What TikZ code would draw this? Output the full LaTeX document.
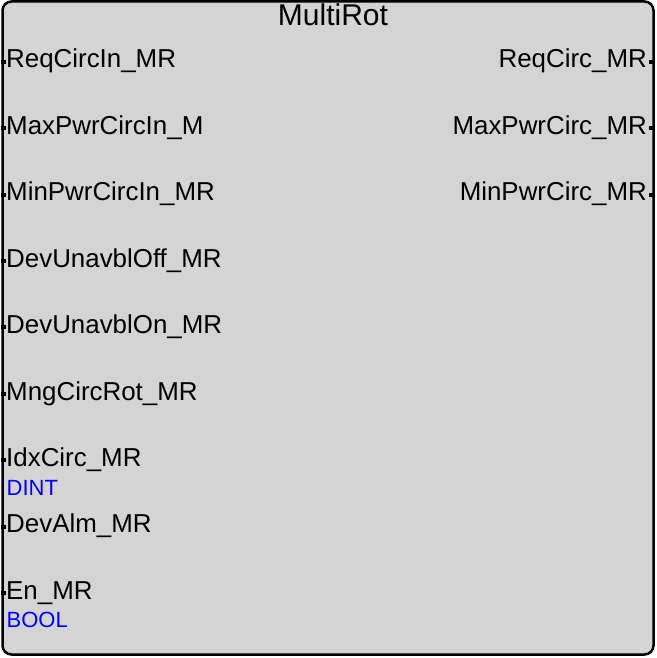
\documentclass[tikz,border=0pt]{standalone}
\usepackage{fontspec}
\setmainfont{Liberation Sans}
\definecolor{boxgrey}{RGB}{212,212,212}
\definecolor{typeblue}{RGB}{0,0,255}
\tikzset{
  blockbox/.style={draw=black,fill=boxgrey,line width=2.5pt,rounded corners=9pt},
  pinlab/.style={inner sep=0pt,font=\fontsize{25.9}{30}\selectfont,text=black},
  typelab/.style={inner sep=0pt,font=\fontsize{22}{26}\selectfont,text=typeblue},
  titlelab/.style={inner sep=0pt,font=\fontsize{30}{34}\selectfont,text=black},
  pinmark/.style={fill=black,draw=none}
}
\begin{document}
\begin{tikzpicture}[x=1pt,y=-1pt]
\useasboundingbox (0,0) rectangle (656,658);
\draw[blockbox] (2.5,1.5) rectangle (653.5,654.5);
\node[titlelab,anchor=base] (title) at (333,26) {MultiRot};
% left inputs
\foreach \i/\t in {0/ReqCircIn\_MR,1/MaxPwrCircIn\_M,2/MinPwrCircIn\_MR,3/DevUnavblOff\_MR,4/DevUnavblOn\_MR,5/MngCircRot\_MR,6/IdxCirc\_MR,7/DevAlm\_MR,8/En\_MR}{
  \pgfmathsetmacro{\yb}{68+66.4*\i}
  \node[pinlab,anchor=base west] (in\i) at (6,\yb) {\t};
  \fill[pinmark] (1,\yb-8.3) rectangle (6,\yb-4.3);
}
\node[typelab,anchor=base west] (typeidx) at (6.5,495) {DINT};
\node[typelab,anchor=base west] (typeen) at (6.5,627) {BOOL};
% right outputs
\foreach \i/\t in {0/ReqCirc\_MR,1/MaxPwrCirc\_MR,2/MinPwrCirc\_MR}{
  \pgfmathsetmacro{\yb}{68+66.4*\i}
  \node[pinlab,anchor=base east] (out\i) at (647,\yb) {\t};
  \fill[pinmark] (649,\yb-8.3) rectangle (655,\yb-4.3);
}
\end{tikzpicture}
\end{document}
